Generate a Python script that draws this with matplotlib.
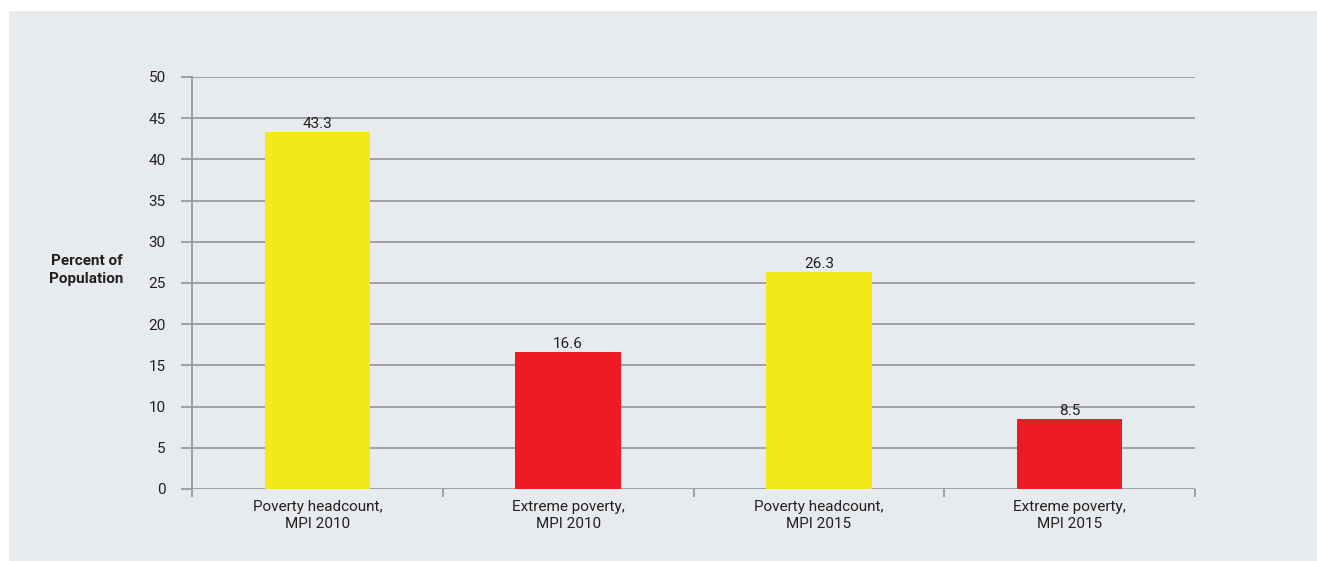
import matplotlib
matplotlib.use("Agg")
import matplotlib.pyplot as plt
from matplotlib.patches import Rectangle
from matplotlib import font_manager

categories = ["Poverty headcount,\nMPI 2010", "Extreme poverty,\nMPI 2010",
              "Poverty headcount,\nMPI 2015", "Extreme poverty,\nMPI 2015"]
values = [43.3, 16.6, 26.3, 8.5]
bar_colors = ["#f4e918", "#ed1c24", "#f4e918", "#ed1c24"]
y_ticks = [0, 5, 10, 15, 20, 25, 30, 35, 40, 45, 50]

names = {f.name for f in font_manager.fontManager.ttflist}
family = "Liberation Sans Narrow" if "Liberation Sans Narrow" in names else "Roboto"
plt.rcParams["font.family"] = [family, "DejaVu Sans"]

text_color = "#231f20"
grid_color = "#9a9a9c"

fig = plt.figure(figsize=(13.17, 5.61), dpi=100)
fig.patch.set_facecolor("white")
fig.patches.append(Rectangle((9 / 1317, 0), 1 - 9 / 1317, 1 - 11 / 561,
                             transform=fig.transFigure, facecolor="#e8ebee",
                             edgecolor="none", zorder=-10))

ax = fig.add_axes([192 / 1317, 1 - 489 / 561, (1195 - 192) / 1317, (489 - 77) / 561])
ax.set_facecolor("none")

x = list(range(len(categories)))
bars = ax.bar(x, values, width=0.42, color=bar_colors, zorder=3)
for b, v in zip(bars, values):
    ax.text(b.get_x() + b.get_width() / 2, v + 0.15, f"{v:.1f}", ha="center",
            va="bottom", fontsize=11, color=text_color, zorder=4)

ax.set_xlim(-0.5, 3.5)
ax.set_ylim(0, 50)
ax.set_yticks(y_ticks)
ax.set_yticklabels([str(t) for t in y_ticks])
ax.yaxis.grid(True, color=grid_color, linewidth=1.3, zorder=0)
ax.set_axisbelow(True)

ax.set_xticks(x)
ax.set_xticklabels(categories, fontsize=11, color=text_color, linespacing=1.25)
ax.set_xticks([-0.5, 0.5, 1.5, 2.5, 3.5], minor=True)
ax.tick_params(axis="x", which="major", length=0, pad=8)
ax.tick_params(axis="x", which="minor", length=6, width=1.3, color=grid_color, direction="out")
ax.tick_params(axis="y", length=8, width=1.3, color=grid_color, pad=11,
               labelsize=11, labelcolor=text_color)

for side in ["top", "right", "bottom"]:
    ax.spines[side].set_visible(False)
ax.spines["left"].set_color(grid_color)
ax.spines["left"].set_linewidth(1.3)

fig.text(123 / 1317, 1 - 270 / 561, "Percent of\nPopulation", ha="right", va="center",
         fontsize=11, fontweight="bold", color=text_color, linespacing=1.3)

fig.savefig("out.png", dpi=100)
